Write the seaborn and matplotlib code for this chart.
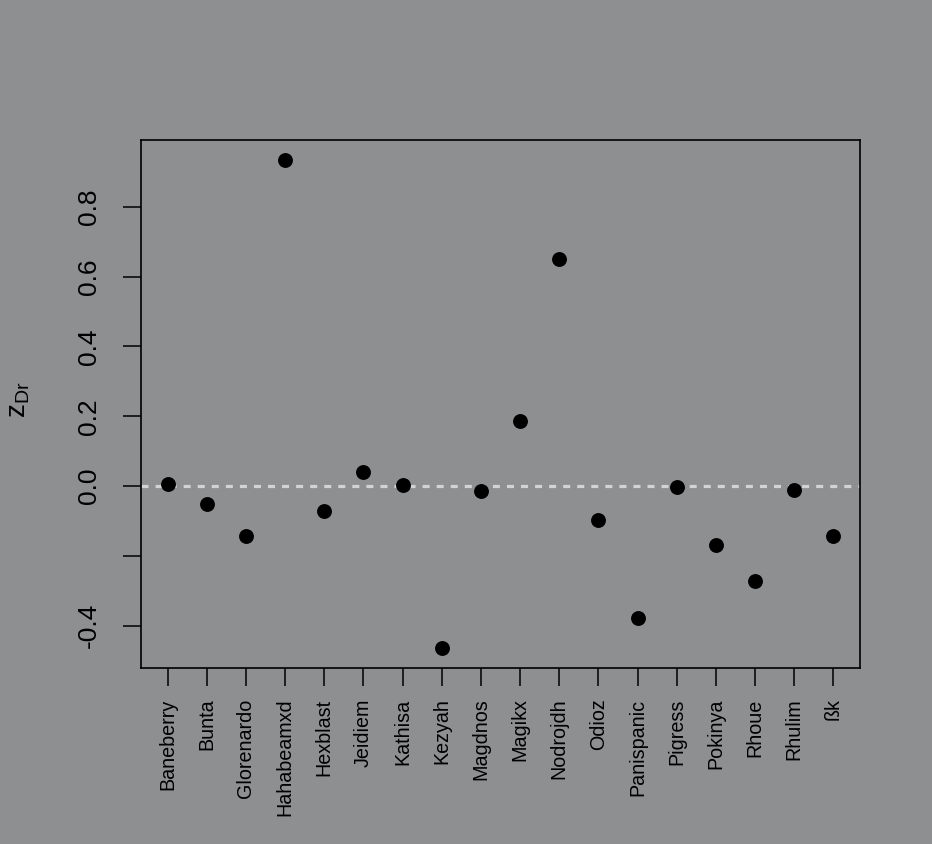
import matplotlib
matplotlib.use("Agg")
import matplotlib.pyplot as plt
import seaborn as sns
import pandas as pd

categories = ["Baneberry", "Bunta", "Glorenardo", "Hahabeamxd", "Hexblast", "Jeidiem",
              "Kathisa", "Kezyah", "Magdnos", "Magikx", "Nodrojdh", "Odioz",
              "Panispanic", "Pigress", "Pokinya", "Rhoue", "Rhulim", "ßk"]
zdr = [0.006, -0.052, -0.143, 0.935, -0.072, 0.040,
       0.003, -0.465, -0.014, 0.186, 0.651, -0.097,
       -0.379, -0.002, -0.169, -0.272, -0.011, -0.143]
ytick_values = [-0.4, -0.2, 0.0, 0.2, 0.4, 0.6, 0.8]
ytick_labels = ["-0.4", "", "0.0", "0.2", "0.4", "0.6", "0.8"]

bg = "#8E8F91"
sns.set_theme(style="white")
plt.rcParams["font.family"] = ["Liberation Sans", "DejaVu Sans"]
plt.rcParams["mathtext.fontset"] = "custom"
plt.rcParams["mathtext.rm"] = "Liberation Sans"
plt.rcParams["mathtext.it"] = "Liberation Sans"

df = pd.DataFrame({"name": categories, "zdr": zdr})

fig = plt.figure(figsize=(9.32, 8.44), dpi=100, facecolor=bg)
ax = fig.add_axes([141/932, 1 - 668/844, (860-141)/932, (668-140)/844])
ax.set_facecolor(bg)

ax.axhline(0, color="#D3D3D3", lw=2.3, dashes=(2.2, 2.2), zorder=1)
sns.scatterplot(data=df, x="name", y="zdr", ax=ax, color="black", s=115,
                edgecolor="black", linewidth=0, zorder=3)

n = len(categories)
ax.set_xlim(-0.04*(n-1), (n-1)*1.04)
ymin, ymax = min(zdr), max(zdr)
span = ymax - ymin
ax.set_ylim(ymin - 0.04*span, ymax + 0.04*span)

ax.set_xticks(range(n))
ax.set_xticklabels(categories, rotation=90, fontsize=14.2, color="black")
ax.set_yticks(ytick_values)
ax.set_yticklabels(ytick_labels, rotation=90, va="center", fontsize=19, color="black")
ax.tick_params(axis="x", length=13, width=1.1, color="black", pad=9, direction="out", bottom=True)
ax.tick_params(axis="y", length=13, width=1.1, color="black", pad=16, direction="out", left=True)

ax.set_xlabel("")
ax.set_ylabel(r"$\mathregular{z_{Dr}}$", fontsize=20, color="black", labelpad=0)
ax.yaxis.set_label_coords(-0.152, 0.508)

for sp in ax.spines.values():
    sp.set_color("black")
    sp.set_linewidth(1.2)

fig.savefig("out.png", dpi=100, facecolor=bg)
